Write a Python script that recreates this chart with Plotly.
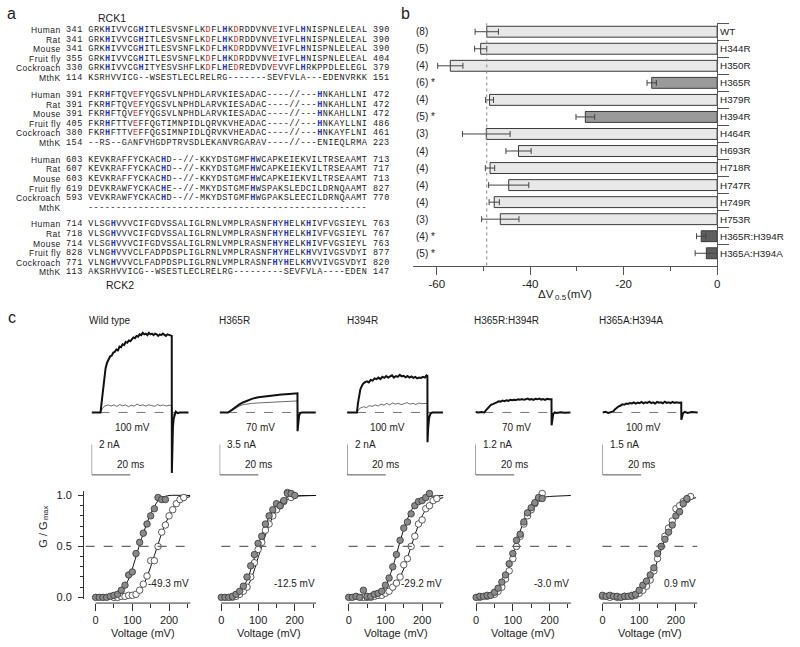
import plotly.graph_objects as go

W, H = 800, 647
def px(x): return x / W
def py(y): return 1 - y / H

FONT = "Liberation Sans, Arial, sans-serif"
MONO = "Liberation Mono, Courier New, monospace"
TXT = "#222222"
BLUE = "#1f35d0"
RED = "#e0302a"

# ---------------- panel a : alignment ----------------
species = ["Human", "Rat", "Mouse", "Fruit fly", "Cockroach", "MthK"]

b1_start = ["341", "341", "341", "355", "330", "114"]
b1_end = ["390", "390", "390", "404", "379", "151"]
b1_seq = ["GRKHIVVCGHITLESVSNFLKDFLHKDRDDVNVEIVFLHNISPNLELEAL",
          "GRKHIVVCGHITLESVSNFLKDFLHKDRDDVNVEIVFLHNISPNLELEAL",
          "GRKHIVVCGHITLESVSNFLKDFLHKDRDDVNVEIVFLHNISPNLELEAL",
          "GRKHIVVCGHITLESVSNFLKDFLHKDRDDVNVEIVFLHNISPNLELEAL",
          "GRKHIVVCGHITYESVSHFLKDFLHEDREDVDVEVVFLHRKPPDLELEGL",
          "KSRHVVICG--WSESTLECLRELRG-------SEVFVLA---EDENVRKK"]
b1_blue = [4, 10, 25, 39]
b1_red = [22, 27, 34]

b2_start = ["391", "391", "391", "405", "380", "154"]
b2_end = ["472", "472", "472", "486", "461", "223"]
b2_seq = ["FKRHFTQVEFYQGSVLNPHDLARVKIESADAC----//---HNKAHLLNI",
          "FKRHFTQVEFYQGSVLNPHDLARVKIESADAC----//---HNKAHLLNI",
          "FKRHFTQVEFYQGSVLNPHDLARVKIESADAC----//---HNKAHLLNI",
          "FKRHFTTVEFFQGTIMNPIDLQRVKVHEADAC----//---HNKAYLLNI",
          "FKRHFTTVEFFQGSIMNPIDLQRVKVHEADAC----//---HNKAYFLNI",
          "--RS--GANFVHGDPTRVSDLEKANVRGARAV----//---ENIEQLRMA"]
b2_blue = [4, 42]
b2_red = [9]

b3_start = ["603", "607", "603", "619", "593", ""]
b3_end = ["713", "717", "713", "827", "770", ""]
b3_seq = ["KEVKRAFFYCKACHD--//-KKYDSTGMFHWCAPKEIEKVILTRSEAAMT",
          "KEVKRAFFYCKACHD--//-KKYDSTGMFHWCAPKEIEKVILTRSEAAMT",
          "KEVKRAFFYCKACHD--//-KKYDSTGMFHWCAPKEIEKVILTRSEAAMT",
          "DEVKRAWFYCKACHE--//-MKYDSTGMFHWSPAKSLEDCILDRNQAAMT",
          "VEVKRAWFYCKACHD--//-MKYDSTGMFHWGPAKSLEECILDRNQAAMT",
          "--------------------------------------------------"]
b3_blue = [14, 30]
b3_red = []

b4_start = ["714", "718", "714", "828", "771", "113"]
b4_end = ["763", "767", "763", "877", "820", "147"]
b4_seq = ["VLSGHVVVCIFGDVSSALIGLRNLVMPLRASNFHYHELKHIVFVGSIEYL",
          "VLSGHVVVCIFGDVSSALIGLRNLVMPLRASNFHYHELKHIVFVGSIEYL",
          "VLSGHVVVCIFGDVSSALIGLRNLVMPLRASNFHYHELKHIVFVGSIEYL",
          "VLNGHVVVCLFADPDSPLIGLRNLVMPLRASNFHYHELKHVVIVGSVDYI",
          "VLNGHVVVCLFADPDSPLIGLRNLVMPLRASNFHYHELKHVVIVGSVDYI",
          "AKSRHVVICG--WSESTLECLRELRG---------SEVFVLA----EDEN"]
b4_blue = [5, 34, 36, 40]
b4_red = []

# ---------------- panel b : bar chart ----------------
mutants = ["WT", "H344R", "H350R", "H365R", "H379R", "H394R", "H464R", "H693R",
           "H718R", "H747R", "H749R", "H753R", "H365R:H394R", "H365A:H394A"]
dv05 = [-49.3, -50.6, -57.1, -14.0, -48.7, -28.2, -49.4, -42.5, -48.6, -44.6,
        -47.7, -46.4, -3.4, -2.3]
dv05_err = [2.5, 1.3, 2.7, 1.0, 0.85, 2.0, 5.1, 2.7, 1.0, 4.3, 1.1, 4.0, 1.0, 2.4]
n_cells = [8, 5, 4, 6, 4, 5, 3, 4, 4, 4, 4, 3, 4, 5]
significant = [False, False, False, True, False, True, False, False, False, False,
               False, False, True, True]
bar_group = [0, 0, 0, 1, 0, 1, 0, 0, 0, 0, 0, 0, 2, 2]
BAR_COLORS = ["#e8e8e8", "#9a9a9a", "#5e5e5e"]
bx_ticks = [-60, -40, -20, 0]
bx_ticktext = ["-60", "-40", "-20", "0"]

# ---------------- panel c : current traces ----------------
trace_titles = ["Wild type", "H365R", "H394R", "H365R:H394R", "H365A:H394A"]
trace_voltage = ["100 mV", "70 mV", "100 mV", "70 mV", "100 mV"]
scale_nA = [2.0, 3.5, 2.0, 1.2, 1.5]
scale_nA_text = ["2 nA", "3.5 nA", "2 nA", "1.2 nA", "1.5 nA"]
scale_ms = 20
trace_onset = [4.6, 4.3, 5.1, 4.6, 5.6]
trace_end = [50.0, 49.6, 49.5, 49.1, 49.2]

t_wt = [0, 4.6, 5.2, 5.8, 6.5, 7.2, 8.0, 8.8, 9.6, 10.4, 11.2, 12.0, 12.8, 13.6,
        14.4, 15.2, 16.0, 16.8, 17.6, 18.4, 19.2, 20.0, 20.8, 21.6, 22.4, 23.2,
        24.0, 24.8, 25.6, 26.4, 27.2, 28.0, 28.8, 29.6, 30.4, 31.2, 32.0, 32.8,
        33.6, 34.4, 35.2, 36.0, 36.8, 37.6, 38.4, 39.2, 40.0, 40.8, 41.4, 41.45,
        41.7, 42.0, 42.4, 42.9, 43.5, 44.5, 45.5, 50.0]
i_wt = [0, 0, 0.7, 1.4, 2.2, 2.9, 3.3, 3.5, 3.7, 3.75, 3.95, 4.0, 4.15, 4.1,
        4.35, 4.3, 4.5, 4.45, 4.65, 4.6, 4.75, 4.7, 4.85, 4.95, 4.9, 5.05,
        5.0, 5.15, 5.1, 5.25, 5.15, 5.2, 5.1, 5.25, 5.15, 5.2, 5.1, 5.2,
        5.15, 5.05, 5.15, 5.1, 5.2, 5.1, 5.05, 5.15, 5.1, 5.05, 5.05, -4.0,
        -2.2, -1.0, -0.4, -0.1, 0.05, -0.05, 0, 0]
t_wt_thin = [0, 4.6, 5.5, 6.5, 7.5, 8.5, 10, 11.5, 13, 14.5, 16, 17.5, 19, 20.5,
             22, 23.5, 25, 26.5, 28, 29.5, 31, 32.5, 34, 35.5, 37, 38.5, 40,
             41.4, 41.6, 43, 50]
i_wt_thin = [0, 0, 0.25, 0.4, 0.45, 0.5, 0.42, 0.5, 0.4, 0.52, 0.44, 0.5, 0.38,
             0.48, 0.42, 0.55, 0.45, 0.5, 0.42, 0.5, 0.46, 0.4, 0.52, 0.44, 0.5,
             0.42, 0.48, 0.45, -0.3, 0, 0]

t_365 = [0, 4.3, 6, 8, 10, 12, 14, 17, 20, 24, 28, 32, 36, 40.2, 40.25, 40.6,
         41.0, 41.5, 42.5, 49.6]
i_365 = [0, 0, 0.26, 0.6, 0.9, 1.15, 1.35, 1.6, 1.75, 1.88, 1.98, 2.06, 2.14,
         2.21, -2.17, -1.0, -0.4, -0.1, 0, 0]
t_365_thin = [0, 4.3, 6, 8, 10, 12, 14, 17, 20, 24, 28, 32, 36, 40.2, 40.25, 41, 49.6]
i_365_thin = [0, 0, 0.15, 0.45, 0.72, 0.9, 0.98, 1.05, 1.1, 1.16, 1.21, 1.25,
              1.29, 1.33, 0, 0, 0]

t_394 = [0, 5.1, 5.6, 6.2, 6.8, 7.6, 8.4, 9.3, 10.3, 11.2, 12.2, 13.2, 14.2, 15.2,
         16.2, 17.2, 18.2, 19.2, 20.2, 21.2, 22.2, 23.2, 24.2, 25.2, 26.2, 27.2,
         28.2, 29.2, 30.2, 31.2, 32.2, 33.2, 34.2, 35.2, 36.2, 37.2, 38.2, 39.2,
         40.2, 41.0, 41.5, 41.55, 41.9, 42.4, 43.0, 44, 49.5]
i_394 = [0, 0, 0.6, 1.1, 1.5, 1.75, 1.92, 2.0, 2.05, 1.98, 2.15, 2.1, 2.25, 2.2,
         2.3, 2.2, 2.35, 2.28, 2.4, 2.3, 2.35, 2.45, 2.3, 2.4, 2.35, 2.48, 2.38,
         2.42, 2.32, 2.4, 2.3, 2.38, 2.28, 2.35, 2.25, 2.3, 2.28, 2.35, 2.3,
         2.45, 2.4, -1.96, -1.0, -0.35, -0.1, 0, 0]
t_394_thin = [0, 5.1, 6, 7, 8.5, 10, 11.5, 13, 14.5, 16, 17.5, 19, 20.5, 22, 23.5,
              25, 26.5, 28, 29.5, 31, 32.5, 34, 35.5, 37, 38.5, 40, 41.5, 41.6, 43, 49.5]
i_394_thin = [0, 0, 0.2, 0.3, 0.38, 0.32, 0.45, 0.4, 0.5, 0.42, 0.55, 0.48, 0.6,
              0.5, 0.62, 0.55, 0.6, 0.52, 0.58, 0.65, 0.55, 0.6, 0.52, 0.62, 0.58,
              0.6, 0.6, 0, 0, 0]

t_rr = [0, 1.5, 3, 4.6, 5.4, 6.2, 7, 8, 9, 10, 11, 12, 13, 14, 15, 16, 17, 18, 19,
        20, 21, 22, 23, 24, 25, 26, 27, 28, 29, 30, 31, 32, 33, 34, 35, 36, 37, 38,
        38.8, 39.3, 39.35, 39.7, 40.2, 41, 42, 44, 46, 49.1]
i_rr = [0.02, 0.0, 0.02, 0.0, 0.08, 0.16, 0.22, 0.3, 0.33, 0.38, 0.4, 0.44, 0.43,
        0.47, 0.45, 0.48, 0.46, 0.5, 0.48, 0.5, 0.49, 0.52, 0.5, 0.53, 0.5, 0.52,
        0.55, 0.51, 0.53, 0.5, 0.54, 0.52, 0.55, 0.51, 0.53, 0.5, 0.54, 0.52,
        0.53, 0.52, -0.51, -0.2, -0.06, 0.0, -0.02, 0.01, -0.01, 0.0]

t_aa = [0, 1.5, 3, 4.5, 5.6, 6.4, 7.2, 8.2, 9.2, 10.2, 11.2, 12.2, 13.2, 14.2, 15.2,
        16.2, 17.2, 18.2, 19.2, 20.2, 21.2, 22.2, 23.2, 24.2, 25.2, 26.2, 27.2,
        28.2, 29.2, 30.2, 31.2, 32.2, 33.2, 34.2, 35.2, 36.2, 37.2, 38.2, 39.2,
        40.2, 40.7, 40.75, 41.1, 41.6, 42.5, 44, 46, 49.2]
i_aa = [0.0, 0.03, -0.02, 0.02, 0.05, 0.15, 0.22, 0.29, 0.33, 0.4, 0.38, 0.44,
        0.42, 0.47, 0.45, 0.5, 0.44, 0.49, 0.46, 0.52, 0.45, 0.5, 0.47, 0.53,
        0.46, 0.5, 0.44, 0.52, 0.48, 0.5, 0.45, 0.53, 0.47, 0.5, 0.46, 0.52,
        0.47, 0.5, 0.48, 0.5, 0.49, -0.36, -0.15, -0.04, 0.03, -0.02, 0.02, 0.0]

# ---------------- panel c : G/Gmax-V ----------------
gv_shift_text = ["-49.3 mV", "-12.5 mV", "-29.2 mV", "-3.0 mV", "0.9 mV"]

wt_on_v = [0, 10, 20, 30, 40, 50, 60, 70, 80, 90, 100, 110, 120, 130, 140, 150, 160, 170, 180, 190]
wt_on_g = [0, 0, 0, 0, 0.01, 0.02, 0.03, 0.07, 0.12, 0.22, 0.25, 0.43, 0.54, 0.63, 0.72, 0.80, 0.87, 0.98, 0.96, 0.96]
wt_off_v = [50, 60, 70, 80, 90, 100, 110, 120, 130, 140, 150, 160, 170, 180, 190, 200, 210, 220, 230, 240]
wt_off_g = [0, 0, 0.01, 0.01, 0.02, 0.02, 0.03, 0.07, 0.13, 0.21, 0.36, 0.36, 0.5, 0.64, 0.71, 0.80, 0.86, 0.92, 0.96, 0.98]
wt_fit_on_v = [0, 40, 60, 70, 80, 90, 100, 110, 120, 130, 140, 150, 160, 170, 180, 200, 258]
wt_fit_on_g = [0, 0.01, 0.03, 0.06, 0.11, 0.18, 0.28, 0.4, 0.52, 0.63, 0.73, 0.82, 0.89, 0.95, 0.98, 1.0, 1.0]
wt_fit_off_v = [0, 80, 100, 110, 120, 130, 140, 150, 160, 170, 180, 190, 200, 210, 220, 230, 240, 258]
wt_fit_off_g = [0, 0.005, 0.02, 0.04, 0.07, 0.12, 0.2, 0.3, 0.41, 0.52, 0.63, 0.72, 0.8, 0.87, 0.92, 0.95, 0.97, 0.99]

r365_on_v = [0, 10, 20, 30, 40, 50, 60, 70, 80, 90, 100, 110, 120, 130, 140, 150, 160, 170, 180, 190, 200]
r365_on_g = [0, 0, 0, 0.01, 0.03, 0.06, 0.11, 0.2, 0.31, 0.42, 0.53, 0.6, 0.72, 0.8, 0.86, 0.92, 0.9, 0.95, 1.02, 1.02, 1.0]
r365_off_v = [30, 40, 50, 60, 70, 80, 90, 100, 110, 120, 130, 140, 150, 160, 170, 180, 190]
r365_off_g = [0, 0.01, 0.03, 0.06, 0.1, 0.2, 0.34, 0.47, 0.54, 0.66, 0.72, 0.8, 0.86, 0.9, 0.94, 1.03, 0.98]
r365_fit_on_v = [0, 30, 50, 60, 70, 80, 90, 100, 110, 120, 130, 140, 150, 160, 180, 200, 258]
r365_fit_on_g = [0, 0.01, 0.05, 0.1, 0.17, 0.27, 0.39, 0.5, 0.61, 0.71, 0.79, 0.86, 0.91, 0.94, 0.98, 0.995, 1.0]
r365_fit_off_v = [0, 40, 60, 70, 80, 90, 100, 110, 120, 130, 140, 150, 160, 170, 190, 210, 258]
r365_fit_off_g = [0, 0.01, 0.05, 0.1, 0.17, 0.27, 0.39, 0.5, 0.61, 0.71, 0.79, 0.86, 0.91, 0.94, 0.98, 0.995, 1.0]

r394_on_v = [0, 10, 20, 30, 40, 50, 60, 70, 80, 90, 100, 110, 120, 130, 140, 150, 160, 170, 180, 190, 200, 210, 220]
r394_on_g = [0, 0, 0.01, 0, 0.07, 0.01, 0.01, 0.03, 0.04, 0.06, 0.12, 0.19, 0.3, 0.42, 0.56, 0.68, 0.74, 0.82, 0.9, 0.94, 0.95, 0.98, 1.02]
r394_off_v = [40, 50, 60, 70, 80, 90, 100, 110, 120, 130, 140, 150, 160, 170, 180, 190, 200, 210, 220, 230, 240]
r394_off_g = [0, 0, 0, 0.01, 0.02, 0.02, 0.04, 0.06, 0.1, 0.14, 0.2, 0.32, 0.38, 0.5, 0.6, 0.72, 0.76, 0.87, 0.9, 0.95, 0.97]
r394_fit_on_v = [0, 60, 80, 90, 100, 110, 120, 130, 140, 150, 160, 170, 180, 190, 200, 220, 258]
r394_fit_on_g = [0, 0.01, 0.03, 0.06, 0.11, 0.19, 0.3, 0.42, 0.55, 0.67, 0.77, 0.85, 0.91, 0.95, 0.97, 0.99, 1.0]
r394_fit_off_v = [0, 80, 100, 110, 120, 130, 140, 150, 160, 170, 180, 190, 200, 210, 220, 230, 240, 258]
r394_fit_off_g = [0, 0.01, 0.03, 0.05, 0.08, 0.13, 0.2, 0.28, 0.39, 0.5, 0.61, 0.71, 0.8, 0.86, 0.91, 0.94, 0.96, 0.98]

rr_on_v = [0, 10, 20, 30, 40, 50, 60, 70, 80, 90, 100, 110, 120, 130, 140, 150, 160, 170, 180]
rr_on_g = [0, 0.01, 0.01, 0.02, 0.02, 0.05, 0.09, 0.15, 0.22, 0.33, 0.43, 0.56, 0.62, 0.74, 0.83, 0.88, 0.93, 0.98, 0.97]
rr_off_v = [10, 30, 50, 60, 70, 80, 90, 100, 110, 120, 130, 140, 150, 160, 170, 180]
rr_off_g = [0, 0.01, 0.03, 0.06, 0.1, 0.18, 0.26, 0.38, 0.5, 0.6, 0.72, 0.8, 0.86, 0.92, 0.97, 1.02]
rr_fit_v = [0, 40, 60, 70, 80, 90, 100, 110, 120, 130, 140, 150, 160, 170, 180, 200, 258]
rr_fit_g = [0, 0.02, 0.07, 0.12, 0.2, 0.3, 0.42, 0.54, 0.65, 0.75, 0.83, 0.89, 0.93, 0.96, 0.98, 0.99, 1.0]

aa_on_v = [0, 10, 20, 30, 40, 50, 60, 70, 80, 90, 100, 110, 120, 130, 140, 150, 160, 170, 180, 190, 200, 210, 220, 230]
aa_on_g = [0.02, 0.01, 0.02, 0.01, 0.01, 0, 0.01, 0.01, 0.02, 0.03, 0.07, 0.12, 0.16, 0.22, 0.29, 0.43, 0.5, 0.57, 0.64, 0.71, 0.8, 0.84, 0.92, 0.97]
aa_off_v = [0, 20, 40, 60, 80, 90, 100, 110, 120, 130, 140, 150, 160, 170, 180, 190, 200, 210, 220, 230, 240]
aa_off_g = [0.01, 0, 0, 0.01, 0.01, 0.02, 0.04, 0.07, 0.11, 0.17, 0.26, 0.38, 0.5, 0.6, 0.68, 0.75, 0.87, 0.9, 0.94, 0.96, 0.99]
aa_fit_v = [0, 80, 100, 110, 120, 130, 140, 150, 160, 170, 180, 190, 200, 210, 220, 230, 240, 255]
aa_fit_g = [0.01, 0.02, 0.05, 0.08, 0.12, 0.18, 0.26, 0.36, 0.47, 0.57, 0.66, 0.74, 0.81, 0.87, 0.91, 0.94, 0.96, 0.98]

gv_ticks = [0, 100, 200]
gv_minor = [50, 150, 250]
g_ticks = [0, 0.5, 1.0]
g_ticktext = ["0.0", "0.5", "1.0"]
g_minor = [0.1, 0.2, 0.3, 0.4, 0.6, 0.7, 0.8, 0.9]

# ======================================================
fig = go.Figure()
annotations = []
shapes = []
layout = dict(width=W, height=H, margin=dict(l=0, r=0, t=0, b=0, pad=0),
              autosize=False,
              paper_bgcolor="white", plot_bgcolor="rgba(0,0,0,0)",
              showlegend=False, font=dict(family=FONT, color=TXT, size=10))

def ann(text, x, y, size=10, xanchor="center", yanchor="middle", family=FONT,
        color=TXT, angle=0):
    annotations.append(dict(text=text, x=px(x), y=py(y), xref="paper", yref="paper",
                            xanchor=xanchor, yanchor=yanchor, showarrow=False,
                            textangle=angle, borderpad=0,
                            font=dict(size=size, family=family, color=color)))

# panel labels
ann("a", 9, 12, size=16)
ann("b", 406, 12, size=16)
ann("c", 9, 318, size=16)

# ---- panel a (compact rows: small font + letter spacing keeps the reference width)
def colorize(seq, blues, reds):
    out = []
    for k, ch in enumerate(seq, start=1):
        if k in blues and ch not in "-/":
            out.append(f"<span style='color:{BLUE}'><b>{ch}</b></span>")
        elif k in reds and ch not in "-/":
            out.append(f"<span style='color:{RED}'>{ch}</span>")
        else:
            out.append(ch)
    return "".join(out)

blocks = [(b1_start, b1_end, b1_seq, b1_blue, b1_red),
          (b2_start, b2_end, b2_seq, b2_blue, b2_red),
          (b3_start, b3_end, b3_seq, b3_blue, b3_red),
          (b4_start, b4_end, b4_seq, b4_blue, b4_red)]
block_top = [28.5, 94.0, 159.3, 224.5]
row_dy = 9.65
MONO_SIZE = 8.5
char_w = 5.58
LS_MONO = char_w - MONO_SIZE * 0.6
NAME_SIZE = 8.5
for bi, (st, en, sq, bl, rd) in enumerate(blocks):
    for r in range(6):
        y = block_top[bi] + r * row_dy
        ann(f"<span style='letter-spacing:0.45px'>{species[r]}</span>", 59.5, y,
            size=NAME_SIZE, xanchor="right")
        is_mthk = species[r] == "MthK"
        seq_txt = sq[r] if is_mthk else colorize(sq[r], bl, rd)
        if st[r]:
            body = st[r] + " " + seq_txt + " " + en[r]
            ann(f"<span style='letter-spacing:{LS_MONO:.3f}px'>{body}</span>", 62, y,
                size=MONO_SIZE, xanchor="left", family=MONO)
        else:
            ann(f"<span style='letter-spacing:{LS_MONO:.3f}px'>{seq_txt}</span>",
                62 + 4 * char_w, y, size=MONO_SIZE, xanchor="left", family=MONO)
ann("RCK1", 110, 16, size=10.5)
ann("RCK2", 118, 286, size=10.5)

# ---- panel b
fig.add_trace(go.Bar(
    x=dv05, y=mutants, orientation="h", width=0.64,
    marker=dict(color=[BAR_COLORS[g] for g in bar_group],
                line=dict(color="#3a3a3a", width=1)),
    error_x=dict(type="data", array=dv05_err, color="#444", thickness=1, width=3),
    xaxis="x", yaxis="y", hoverinfo="skip"))
layout["xaxis"] = dict(domain=[px(413.5), px(719.5)], range=[-65, 0], anchor="y",
                       showline=True, linecolor="#555", linewidth=1, ticks="outside",
                       ticklen=8, tickcolor="#555", tickvals=bx_ticks, ticktext=bx_ticktext,
                       minor=dict(tickvals=[-50, -30, -10], ticklen=4, ticks="outside",
                                  tickcolor="#555"),
                       showgrid=False, zeroline=False, tickfont=dict(size=11.5))
layout["yaxis"] = dict(domain=[py(266), py(21.4)], type="category",
                       categoryorder="array", categoryarray=mutants,
                       range=[13.72, -0.5], side="right", anchor="x", showline=True,
                       linecolor="#555", ticks="outside", ticklen=11, tickcolor="#555",
                       tickson="boundaries", showgrid=False, zeroline=False,
                       tickfont=dict(size=9.8))
shapes.append(dict(type="line", xref="x", yref="paper", x0=dv05[0], x1=dv05[0],
                   y0=py(266), y1=py(21.4), line=dict(color="#888", width=1, dash="dot")))
for k in range(len(mutants)):
    label = f"({n_cells[k]})" + (" *" if significant[k] else "")
    annotations.append(dict(text=label, x=px(415.5), y=k, xref="paper", xanchor="left",
                            yref="y", showarrow=False, borderpad=0,
                            font=dict(size=10, family=FONT, color=TXT)))
# x title  "ΔV0.5 (mV)" built from pieces (subscript drawn smaller and lower)
ann("ΔV", 556, 295, size=11.5, xanchor="right")
ann("0.5", 554.8, 298.5, size=8, xanchor="left")
ann("(mV)", 567.5, 295, size=11.5, xanchor="left")

# ---- panel c top: traces
trace_sets = [[(t_wt_thin, i_wt_thin, 0.8), (t_wt, i_wt, 2.0)],
              [(t_365_thin, i_365_thin, 0.8), (t_365, i_365, 2.0)],
              [(t_394_thin, i_394_thin, 0.8), (t_394, i_394, 2.0)],
              [(t_rr, i_rr, 2.0)],
              [(t_aa, i_aa, 2.0)]]
trace_origin = [89.3, 218.3, 346.7, 476.0, 604.0]
title_x = [108, 233, 362, 507, 633]
PX_MS = 1.95
BAR_PX = 30.6
BASE_PX = 414.3
for p in range(5):
    k = BAR_PX / scale_nA[p]
    xa, ya = f"x{2+p}", f"y{2+p}"
    o = trace_origin[p]
    layout[f"xaxis{2+p}"] = dict(domain=[px(o), px(o + 52 * PX_MS)], range=[0, 52],
                                 visible=False, anchor=ya)
    layout[f"yaxis{2+p}"] = dict(domain=[py(484), py(322)],
                                 range=[-(484 - BASE_PX) / k, (BASE_PX - 322) / k],
                                 visible=False, anchor=xa)
    fig.add_trace(go.Scatter(x=[trace_onset[p], trace_end[p]], y=[0, 0], mode="lines",
                             line=dict(color="#777", width=1, dash="dash"),
                             xaxis=xa, yaxis=ya, hoverinfo="skip"))
    for (tt, ii, lw) in trace_sets[p]:
        assert len(tt) == len(ii)
        fig.add_trace(go.Scatter(x=tt, y=ii, mode="lines",
                                 line=dict(color="#111" if lw > 1 else "#444", width=lw),
                                 xaxis=xa, yaxis=ya, hoverinfo="skip"))
    bot = -(477.3 - BASE_PX) / k
    fig.add_trace(go.Scatter(x=[0, 0, scale_ms], y=[bot + scale_nA[p], bot, bot],
                             mode="lines", line=dict(color="#555", width=1),
                             xaxis=xa, yaxis=ya, hoverinfo="skip"))
    ann(trace_titles[p], title_x[p], 321, size=10)
    ann(trace_voltage[p], o + 41, 429.3, size=10)
    ann(scale_nA_text[p], o + 6.5, 446.5, size=10, xanchor="left")
    ann("20 ms", o + 39, 467.3, size=10)

# ---- panel c bottom: G/Gmax
gv_sets = [
    (wt_fit_on_v, wt_fit_on_g, wt_fit_off_v, wt_fit_off_g, wt_off_v, wt_off_g, wt_on_v, wt_on_g),
    (r365_fit_on_v, r365_fit_on_g, r365_fit_off_v, r365_fit_off_g, r365_off_v, r365_off_g, r365_on_v, r365_on_g),
    (r394_fit_on_v, r394_fit_on_g, r394_fit_off_v, r394_fit_off_g, r394_off_v, r394_off_g, r394_on_v, r394_on_g),
    (rr_fit_v, rr_fit_g, None, None, rr_off_v, rr_off_g, rr_on_v, rr_on_g),
    (aa_fit_v, aa_fit_g, None, None, aa_off_v, aa_off_g, aa_on_v, aa_on_g),
]
gv_zero = [93.3, 220.0, 348.3, 476.7, 604.0]
PX_MV = 0.37
YAX_PX = 81.7
XAX_Y = 606.7
for p in range(5):
    xa, ya = f"x{7+p}", f"y{7+p}"
    z = gv_zero[p]
    left = YAX_PX if p == 0 else z
    layout[f"xaxis{7+p}"] = dict(domain=[px(left), px(z + 258 * PX_MV)],
                                 range=[-(z - left) / PX_MV, 258],
                                 anchor="free", position=py(XAX_Y), showline=False,
                                 ticks="outside", ticklen=7,
                                 tickcolor="#333", tickvals=gv_ticks,
                                 minor=dict(tickvals=gv_minor, ticklen=4, ticks="outside",
                                            tickcolor="#333"),
                                 showgrid=False, zeroline=False, tickfont=dict(size=11))
    ydict = dict(domain=[py(603), py(494)], range=[-0.02, 1.04], showgrid=False,
                 zeroline=False, anchor=xa)
    if p == 0:
        ydict.update(showline=True, linecolor="#333",
                     ticks="outside", ticklen=5, tickcolor="#333", tickvals=g_ticks,
                     ticktext=g_ticktext, ticklabelstandoff=4,
                     minor=dict(tickvals=g_minor, ticklen=3, ticks="outside",
                                tickcolor="#333"),
                     tickfont=dict(size=11))
    else:
        ydict.update(visible=False)
    layout[f"yaxis{7+p}"] = ydict
    shapes.append(dict(type="line", xref="paper", yref="paper",
                       x0=px(z), x1=px(z + 258 * PX_MV), y0=py(XAX_Y), y1=py(XAX_Y),
                       line=dict(color="#333", width=1)))
    fv1, fg1, fv2, fg2, ov, og, fv, fg = gv_sets[p]
    shapes.append(dict(type="line", xref="paper", yref=ya,
                       x0=px(83.3 if p == 0 else z), x1=px(z + 258 * PX_MV), y0=0.5, y1=0.5,
                       line=dict(color="#666", width=1.2, dash="dash")))
    fig.add_trace(go.Scatter(x=fv1, y=fg1, mode="lines", line=dict(color="#111", width=1,
                             shape="spline", smoothing=0.6), xaxis=xa, yaxis=ya, hoverinfo="skip"))
    if fv2 is not None:
        fig.add_trace(go.Scatter(x=fv2, y=fg2, mode="lines", line=dict(color="#111", width=1,
                                 shape="spline", smoothing=0.6), xaxis=xa, yaxis=ya, hoverinfo="skip"))
    fig.add_trace(go.Scatter(x=ov, y=og, mode="markers", cliponaxis=False,
                             marker=dict(size=6.5, color="white", line=dict(color="#333", width=0.8)),
                             xaxis=xa, yaxis=ya, hoverinfo="skip"))
    fig.add_trace(go.Scatter(x=fv, y=fg, mode="markers", cliponaxis=False,
                             marker=dict(size=6.5, color="#8a8a8a", line=dict(color="#333", width=0.8)),
                             xaxis=xa, yaxis=ya, hoverinfo="skip"))
    ann(gv_shift_text[p], z + 95, 587, size=10, xanchor="right")
    ann("Voltage (mV)", z + 258 * PX_MV / 2, 637, size=11)
# y title "G / Gmax" (rotated; subscript drawn as a smaller piece)
ann("G / G", 40, 538, size=11, angle=-90)
ann("max", 43.5, 515.5, size=7.5, angle=-90)

layout["annotations"] = annotations
layout["shapes"] = shapes
fig.update_layout(**layout)
fig.write_html("out.html", config={"displayModeBar": False},
               post_script="document.body.style.margin='0';document.body.style.padding='0';")
